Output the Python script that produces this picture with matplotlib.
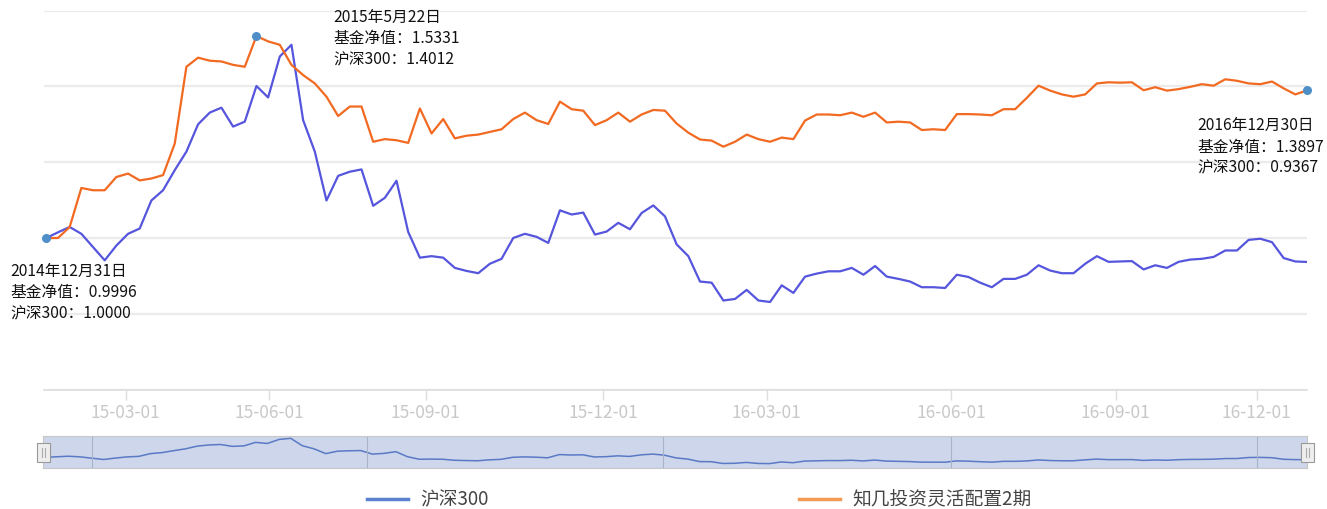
import matplotlib
matplotlib.use("Agg")
import matplotlib.pyplot as plt
from matplotlib.lines import Line2D
from matplotlib.patches import Rectangle
import numpy as np

plt.rcParams['font.family'] = ['Noto Sans CJK SC', 'DejaVu Sans']

# 周度净值 (2014-12-31 ~ 2016-12-30)
fund = [0.9996, 1.000, 1.029, 1.132, 1.126, 1.126, 1.161, 1.170, 1.152, 1.157,
        1.166, 1.249, 1.452, 1.476, 1.468, 1.466, 1.457, 1.452, 1.5331, 1.519,
        1.510, 1.457, 1.430, 1.408, 1.373, 1.322, 1.347, 1.347, 1.254, 1.261,
        1.258, 1.251, 1.342, 1.276, 1.314, 1.263, 1.270, 1.273, 1.280, 1.287,
        1.314, 1.331, 1.311, 1.301, 1.360, 1.340, 1.336, 1.298, 1.311, 1.331,
        1.307, 1.326, 1.338, 1.336, 1.302, 1.278, 1.260, 1.257, 1.241, 1.254,
        1.273, 1.261, 1.254, 1.265, 1.261, 1.310, 1.326, 1.326, 1.324, 1.331,
        1.320, 1.331, 1.305, 1.307, 1.305, 1.285, 1.287, 1.285, 1.327, 1.327,
        1.326, 1.324, 1.340, 1.340, 1.370, 1.402, 1.389, 1.379, 1.373, 1.379,
        1.408, 1.411, 1.410, 1.411, 1.390, 1.398, 1.389, 1.393, 1.399, 1.406,
        1.402, 1.419, 1.415, 1.408, 1.406, 1.413, 1.395, 1.379, 1.3897]

hs300 = [1.0000, 1.015, 1.029, 1.011, 0.976, 0.941, 0.980, 1.011, 1.025, 1.099,
         1.126, 1.179, 1.228, 1.300, 1.331, 1.344, 1.294, 1.307, 1.4012, 1.371,
         1.479, 1.510, 1.311, 1.228, 1.099, 1.164, 1.175, 1.181, 1.085, 1.106,
         1.151, 1.016, 0.948, 0.952, 0.948, 0.921, 0.913, 0.907, 0.932, 0.945,
         1.000, 1.011, 1.003, 0.987, 1.073, 1.062, 1.067, 1.009, 1.017, 1.040,
         1.023, 1.066, 1.086, 1.057, 0.983, 0.952, 0.885, 0.882, 0.835, 0.839,
         0.863, 0.835, 0.831, 0.875, 0.855, 0.898, 0.906, 0.912, 0.912, 0.921,
         0.903, 0.926, 0.898, 0.892, 0.885, 0.870, 0.870, 0.868, 0.903, 0.897,
         0.882, 0.870, 0.892, 0.892, 0.903, 0.928, 0.914, 0.907, 0.907, 0.932,
         0.952, 0.937, 0.938, 0.939, 0.917, 0.928, 0.921, 0.937, 0.943, 0.945,
         0.950, 0.967, 0.967, 0.995, 0.998, 0.989, 0.947, 0.938, 0.9367]

tick_pos = [6.8, 19.1, 32.5, 47.7, 61.7, 77.5, 91.6, 103.7]
tick_labels = ['15-03-01', '15-06-01', '15-09-01', '15-12-01',
               '16-03-01', '16-06-01', '16-09-01', '16-12-01']
zoom_marks = [4.0, 27.5, 52.9, 77.5, 103.7]

ann_idx = [0, 18, 108]
ann_dates = ['2014年12月31日', '2015年5月22日', '2016年12月30日']
ann_offsets = [(-36, -24), (77, 28), (-110, -26)]

c_hs = '#5555dd'
c_fund = '#f26a21'
W, H = 1327, 510


def box(l, t, r, b):
    return [l / W, 1 - b / H, (r - l) / W, (b - t) / H]


fig = plt.figure(figsize=(W / 100, H / 100), dpi=100)
ax = fig.add_axes(box(44, 11.7, 1307, 390.5))
x = np.arange(len(fund))

ax.plot(x, hs300, color=c_hs, lw=1.6, zorder=3)
ax.plot(x, fund, color=c_fund, lw=1.6, zorder=3)
ax.scatter([x[i] for i in ann_idx], [fund[i] for i in ann_idx],
           s=30, color='#4f8fc8', zorder=4, clip_on=False)

for i, d, off in zip(ann_idx, ann_dates, ann_offsets):
    txt = '%s\n基金净值：%.4f\n沪深300：%.4f' % (d, fund[i], hs300[i])
    ax.annotate(txt, (x[i], fund[i]), xytext=off, textcoords='offset pixels',
                ha='left', va='top', fontsize=11.3, color='#111111',
                linespacing=1.32, annotation_clip=False)

ax.set_xlim(-0.2, 108)
ax.set_ylim(0.6, 1.6)
ax.set_yticks([0.6, 0.8, 1.0, 1.2, 1.4, 1.6])
ax.yaxis.grid(True, color='#ebebeb', lw=1.6)
ax.tick_params(axis='y', length=0, labelleft=False)
for s in ['top', 'left', 'right']:
    ax.spines[s].set_visible(False)
ax.spines['bottom'].set_color('#dddddd')
ax.spines['bottom'].set_linewidth(1.2)
ax.set_xticks(tick_pos)
ax.set_xticklabels(tick_labels)
ax.tick_params(axis='x', length=7, width=1, color='#dddddd', labelcolor='#c8c8c8',
               labelsize=12.5, pad=3)
ax.set_axisbelow(True)

# 数据缩放条
axs = fig.add_axes(box(43, 437, 1307, 469))
axs.set_facecolor('#cdd6ea')
axs.plot(x, hs300, color='#5a7ac6', lw=1.1)
for m in zoom_marks:
    axs.axvline(m, color='#a9b3c8', lw=0.8)
axs.set_xlim(-0.2, 108)
axs.set_ylim(0.713, 1.572)
axs.set_xticks([])
axs.set_yticks([])
for s in axs.spines.values():
    s.set_color('#c8c8c8')
for hx in [0, 1]:
    axs.add_patch(Rectangle((hx - 6.5 / 1264, 0.18), 13 / 1264, 0.6, transform=axs.transAxes,
                            facecolor='#eeeeee', edgecolor='#999999', lw=0.8,
                            clip_on=False, zorder=5))
    for dx in [-1.5, 1.5]:
        axs.add_line(Line2D([hx + dx / 1264, hx + dx / 1264], [0.33, 0.63],
                            transform=axs.transAxes, color='#aaaaaa', lw=0.8,
                            clip_on=False, zorder=6))

# 图例
legend_items = [('沪深300', '#5a82d0', 367), ('知几投资灵活配置2期', '#f39a55', 799)]
for label, col, lx in legend_items:
    fig.add_artist(Line2D([lx / W, (lx + 41) / W], [1 - 500 / H, 1 - 500 / H],
                          color=col, lw=2.5))
    fig.text((lx + 53) / W, 1 - 500 / H, label, fontsize=13.5, color='#444444',
             va='center', ha='left')

fig.savefig('out.png', dpi=100, facecolor='white')
